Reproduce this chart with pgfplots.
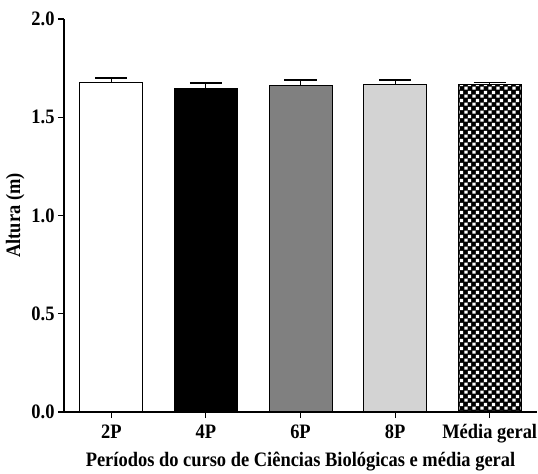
\documentclass[border=0pt]{standalone}
\usepackage{fontspec}
\setmainfont{Liberation Serif}[FakeStretch=0.9]
\usepackage{pgfplots}
\pgfplotsset{compat=1.18}
\usetikzlibrary{calc,patterns.meta}

\definecolor{midgray}{RGB}{128,128,128}
\definecolor{lightgray}{RGB}{211,211,211}

\tikzdeclarepattern{
  name=checks,
  type=uncolored,
  bounding box={(0,0) and (8bp,8bp)},
  tile size={(8bp,8bp)},
  code={
    \pgfpathrectangle{\pgfqpoint{0.3bp}{0.3bp}}{\pgfqpoint{3.6bp}{3.6bp}}
    \pgfpathrectangle{\pgfqpoint{4.3bp}{4.3bp}}{\pgfqpoint{3.6bp}{3.6bp}}
    \pgfusepath{fill}
  }
}

\pgfplotsset{
  onebar/.style={ybar, bar shift=0pt, bar width=63bp, draw=black, line width=0.9bp},
}

\begin{document}
\begin{tikzpicture}
\begin{axis}[
    name=ax,
    scale only axis,
    width=473bp,
    height=393bp,
    xmin=-0.5, xmax=4.5,
    ymin=0, ymax=2,
    axis lines=left,
    axis line style={-, line width=1.1bp},
    axis on top,
    xtick={0,1,2,3,4},
    xticklabels={2P,4P,6P,8P,Média geral},
    ytick={0,0.5,1,1.5,2},
    yticklabel style={/pgf/number format/.cd, fixed, fixed zerofill, precision=1},
    xticklabel style={yshift=-3bp},
    /pgf/number format/assume math mode=true,
    tick style={draw=black, line width=1.1bp},
    xtick align=outside,
    ytick align=outside,
    major tick length=6bp,
    font=\fontsize{20.5bp}{23bp}\selectfont\bfseries,
    ticklabel style={font=\fontsize{20.5bp}{23bp}\selectfont\bfseries},
    xlabel={Períodos do curso de Ciências Biológicas e média geral},
    xlabel style={yshift=-2bp},
    ylabel={Altura (m)},
    error bars/y dir=plus,
    error bars/y explicit,
    error bars/error bar style={line width=1.1bp, black},
    error bars/error mark options={line width=1.6bp, black, mark size=16bp, rotate=90},
]
\addplot[onebar, fill=white] coordinates {(0,1.679) +- (0,0.022)};
\addplot[onebar, fill=black] coordinates {(1,1.645) +- (0,0.028)};
\addplot[onebar, fill=midgray] coordinates {(2,1.664) +- (0,0.026)};
\addplot[onebar, fill=lightgray] coordinates {(3,1.669) +- (0,0.022)};
\addplot[onebar, fill=black, postaction={pattern=checks, pattern color=white}] coordinates {(4,1.666) +- (0,0.010)};
\end{axis}
\pgfresetboundingbox
\path[use as bounding box] ($(ax.south west)+(-64bp,-62bp)$) rectangle ($(ax.north east)+(1bp,19bp)$);
\end{tikzpicture}
\end{document}
